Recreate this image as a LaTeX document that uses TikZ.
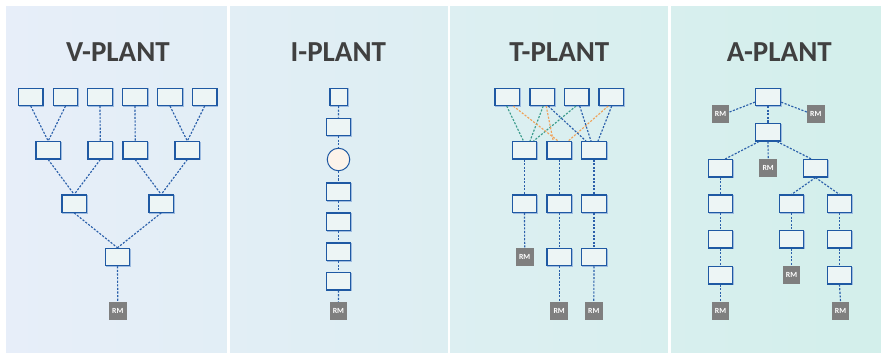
\documentclass[tikz,border=0pt]{standalone}
\usepackage{fontspec}
\setmainfont{Carlito}
\usetikzlibrary{calc,shadows}

\definecolor{bgleft}{HTML}{E7EEF9}
\definecolor{bgright}{HTML}{D3EFEB}
\definecolor{boxfill}{HTML}{EDF5F5}
\definecolor{boxline}{HTML}{1F59A3}
\definecolor{boxshade}{HTML}{9DBBE0}
\definecolor{linkblue}{HTML}{2A5FAA}
\definecolor{linkteal}{HTML}{3A9C8B}
\definecolor{linkorange}{HTML}{F0A259}
\definecolor{rmgray}{HTML}{7F7F7F}
\definecolor{titlegray}{HTML}{404040}
\definecolor{circfill}{HTML}{FCF3EA}

\tikzset{
  pbox/.style={rectangle, minimum width=24.5pt, minimum height=17.3pt, inner sep=0pt,
    fill=boxfill, draw=boxline, line width=1.2pt,
    drop shadow={shadow xshift=0.9pt, shadow yshift=-0.9pt, fill=boxshade, draw=boxshade, line width=1.2pt, opacity=1}},
  psq/.style={pbox, minimum width=17.3pt},
  pcirc/.style={circle, minimum size=22.5pt, inner sep=0pt, fill=circfill, draw=boxline, line width=1pt},
  rmbox/.style={rectangle, minimum size=17.7pt, inner sep=0pt, fill=rmgray, text=white,
    font=\bfseries\fontsize{7.8}{7.8}\selectfont},
  ptitle/.style={anchor=base, text=titlegray, font=\bfseries\fontsize{29}{29}\selectfont},
  plink/.style={draw=linkblue, line width=1.15pt, dash pattern=on 2.1pt off 1.5pt},
  tlink/.style={plink, draw=linkteal},
  olink/.style={plink, draw=linkorange},
}

\begin{document}
\begin{tikzpicture}[x=1pt, y=-1pt]
\useasboundingbox (0,0) rectangle (881,353);
\fill[white] (0,0) rectangle (881,353);

% panel backgrounds with white gaps between them
\shade[left color=bgleft, right color=bgright] (6,7) rectangle (881,352.5);
\fill[white] (227,0) rectangle (229.6,353);
\fill[white] (447.8,0) rectangle (449.8,353);
\fill[white] (668,0) rectangle (670.8,353);

% ---------------- V-PLANT ----------------
\node[ptitle] (vt) at (118,61.7) {V-PLANT};
\node[pbox] (v11) at (30.7,96.8) {};
\node[pbox] (v12) at (65.5,96.8) {};
\node[pbox] (v13) at (100,96.8) {};
\node[pbox] (v14) at (135,96.8) {};
\node[pbox] (v15) at (170,96.8) {};
\node[pbox] (v16) at (204.7,96.8) {};
\node[pbox] (v21) at (48.2,150.3) {};
\node[pbox] (v22) at (100.3,150.3) {};
\node[pbox] (v23) at (135.2,150.3) {};
\node[pbox] (v24) at (187.3,150.3) {};
\node[pbox] (v31) at (74.2,203.7) {};
\node[pbox] (v32) at (161.2,203.7) {};
\node[pbox] (v4) at (117.5,257) {};
\node[rmbox] (vrm) at (117.8,311) {RM};
\foreach \a/\b in {v11/v21, v12/v21, v13/v22, v14/v23, v15/v24, v16/v24,
                   v21/v31, v22/v31, v23/v32, v24/v32, v31/v4, v32/v4, v4/vrm}
  \draw[plink] (\a.south) -- (\b.north);

% ---------------- I-PLANT ----------------
\node[ptitle] (it) at (338.3,61.7) {I-PLANT};
\node[psq] (i0) at (338.6,96.8) {};
\node[pbox] (i1) at (338.5,126.8) {};
\node[pcirc] (ic) at (338.5,159.5) {};
\node[pbox] (i2) at (338.5,191.7) {};
\node[pbox] (i3) at (338.5,221.7) {};
\node[pbox] (i4) at (338.5,251.7) {};
\node[pbox] (i5) at (338.5,281.3) {};
\node[rmbox] (irm) at (338.4,311) {RM};
\foreach \a/\b in {i0/i1, i1/ic, ic/i2, i2/i3, i3/i4, i4/i5, i5/irm}
  \draw[plink] (\a.south) -- (\b.north);

% ---------------- T-PLANT ----------------
\node[ptitle] (tt) at (559.3,61.7) {T-PLANT};
\node[pbox] (t1) at (507.3,96.8) {};
\node[pbox] (t2) at (542.2,96.8) {};
\node[pbox] (t3) at (576.7,96.8) {};
\node[pbox] (t4) at (611.2,96.8) {};
\node[pbox] (ta) at (524.5,150.3) {};
\node[pbox] (tb) at (559.2,150.3) {};
\node[pbox] (tc) at (594,150.3) {};
\node[pbox] (ta2) at (524.5,203.7) {};
\node[pbox] (tb2) at (559.2,203.7) {};
\node[pbox] (tc2) at (594,203.7) {};
\node[rmbox] (trmA) at (524.7,257.3) {RM};
\node[pbox] (tb3) at (559.2,257) {};
\node[pbox] (tc3) at (594,257) {};
\node[rmbox] (trmB) at (559.2,311) {RM};
\node[rmbox] (trmC) at (593.8,311) {RM};
% crossing supply links, one colour per product
\draw[tlink] ($(t1.south)+(-0.6,0)$) -- ($(ta.north)+(-1,0)$);
\draw[tlink] ($(t2.south)+(1,0)$) -- ($(ta.north)+(5.5,0)$);
\draw[tlink] ($(t3.south)+(-0.7,0)$) -- ($(ta.north)+(9,0)$);
\draw[olink] ($(t1.south)+(6,0)$) -- ($(tb.north)+(-1,0)$);
\draw[olink] ($(t2.south)+(4,0)$) -- ($(tb.north)+(-6,0)$);
\draw[olink] ($(t4.south)+(-3,0)$) -- ($(tb.north)+(9,0)$);
\draw[plink] ($(t2.south)+(6,0)$) -- ($(tc.north)+(-8,0)$);
\draw[plink] ($(t3.south)+(3,0)$) -- ($(tc.north)+(-3,0)$);
\draw[plink] ($(t4.south)+(0.5,0)$) -- ($(tc.north)+(4,0)$);
\foreach \a/\b in {ta/ta2, tb/tb2, tc/tc2, ta2/trmA, tb2/tb3, tc2/tc3, tb3/trmB, tc3/trmC}
  \draw[plink] (\a.south) -- (\b.north);

% ---------------- A-PLANT ----------------
\node[ptitle] (at) at (779.3,61.7) {A-PLANT};
\node[pbox] (a0) at (768,96.8) {};
\node[rmbox] (armL) at (720.5,114) {RM};
\node[rmbox] (armR) at (815.8,114) {RM};
\node[pbox] (a1) at (768,132.3) {};
\node[pbox] (aL3) at (720.5,168.3) {};
\node[rmbox] (armM) at (768.2,168.3) {RM};
\node[pbox] (aR3) at (815.5,168.3) {};
\node[pbox] (aL4) at (720.5,203.7) {};
\node[pbox] (aM4) at (791.5,203.7) {};
\node[pbox] (aN4) at (839.5,203.7) {};
\node[pbox] (aL5) at (720.5,239.3) {};
\node[pbox] (aM5) at (791.5,239.3) {};
\node[pbox] (aN5) at (839.5,239.3) {};
\node[pbox] (aL6) at (720.5,275.3) {};
\node[rmbox] (armM6) at (791.5,275.3) {RM};
\node[pbox] (aN6) at (839.5,275.3) {};
\node[rmbox] (armL7) at (720.5,311) {RM};
\node[rmbox] (armN7) at (840.5,311) {RM};
\draw[plink] ($(armL.east)+(0,-2)$) -- ($(a0.south west)+(0,-4)$);
\draw[plink] ($(armR.west)+(0,-2)$) -- ($(a0.south east)+(0,-4)$);
\draw[plink] (a0.south) -- (a1.north);
\draw[plink] ($(a1.south)+(-9,0)$) -- ($(aL3.north)+(4.5,0)$);
\draw[plink] (a1.south) -- (armM.north);
\draw[plink] ($(a1.south)+(9,0)$) -- ($(aR3.north)+(-4,0)$);
\draw[plink] (aR3.south) -- (aM4.north);
\draw[plink] (aR3.south) -- (aN4.north);
\foreach \a/\b in {aL3/aL4, aL4/aL5, aL5/aL6, aL6/armL7, aM4/aM5, aM5/armM6, aN4/aN5, aN5/aN6, aN6/armN7}
  \draw[plink] (\a.south) -- (\b.north);
\end{tikzpicture}
\end{document}
